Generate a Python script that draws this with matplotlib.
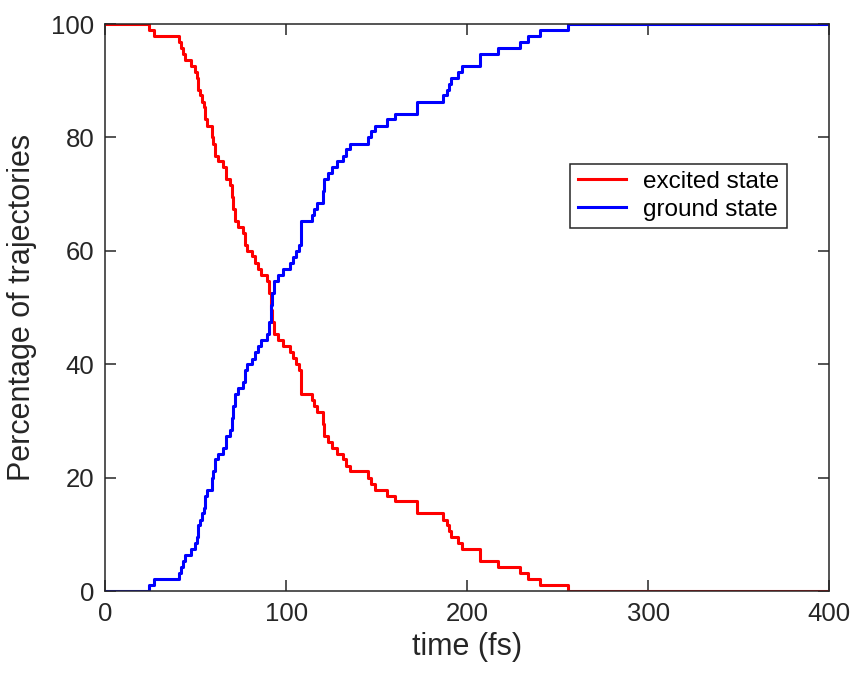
import matplotlib
matplotlib.use('Agg')
import matplotlib.pyplot as plt

plt.rcParams['font.family'] = ['Liberation Sans', 'DejaVu Sans']

# switching times (fs) and population after each switch (%)
t_switch = [0, 24.0, 27.0, 40.6, 41.7, 43.0, 43.9, 47.1, 49.5, 50.5, 51.3, 52.2,
            53.3, 54.5, 55.3, 56.1, 58.7, 59.6, 60.5, 62.4, 65.1, 66.6, 68.8, 69.8,
            70.7, 71.6, 73.4, 75.8, 77.0, 78.1, 80.8, 82.6, 84.3, 86.0, 89.1, 90.4,
            91.3, 92.2, 93.0, 95.5, 98.3, 102.0, 103.8, 105.5, 107.1, 107.9, 114.0,
            115.3, 116.7, 120.1, 120.8, 123.2, 125.0, 128.1, 131.1, 133.2, 135.2,
            145.3, 147.0, 149.0, 155.8, 160.0, 172.0, 186.7, 188.9, 189.8, 190.8,
            195.0, 196.9, 207.0, 217.1, 229.1, 233.7, 240.2, 255.8, 400.0]

excited = [100.0, 98.9, 97.9, 96.9, 95.8, 94.7, 93.7, 92.6, 91.6, 90.5, 88.4, 87.4,
           86.3, 85.3, 83.2, 82.1, 80.0, 78.9, 76.8, 75.8, 74.7, 72.6, 71.6, 69.5,
           67.4, 65.3, 64.2, 63.2, 61.1, 60.0, 59.0, 57.9, 56.8, 55.8, 54.7, 52.6,
           49.5, 47.4, 45.3, 44.2, 43.2, 42.1, 41.1, 40.0, 38.9, 34.7, 33.7,
           32.6, 31.6, 29.5, 27.4, 26.3, 25.3, 24.2, 23.2, 22.1, 21.1,
           20.0, 18.9, 17.9, 16.8, 15.8, 13.7, 12.6, 11.6, 10.5, 9.5,
           8.4, 7.4, 5.3, 4.2, 3.2, 2.1, 1.1, 0.0, 0.0]

ground = [0.0, 1.1, 2.1, 3.1, 4.2, 5.3, 6.3, 7.4, 8.4, 9.5, 11.6, 12.6,
          13.7, 14.7, 16.8, 17.9, 20.0, 21.1, 23.2, 24.2, 25.3, 27.4, 28.4, 30.5,
          32.6, 34.7, 35.8, 36.8, 38.9, 40.0, 41.0, 42.1, 43.2, 44.2, 45.3, 47.4,
          50.5, 52.6, 54.7, 55.8, 56.8, 57.9, 58.9, 60.0, 61.1, 65.3, 66.3,
          67.4, 68.4, 70.5, 72.6, 73.7, 74.7, 75.8, 76.8, 77.9, 78.9,
          80.0, 81.1, 82.1, 83.2, 84.2, 86.3, 87.4, 88.4, 89.5, 90.5,
          91.6, 92.6, 94.7, 95.8, 96.8, 97.9, 98.9, 100.0, 100.0]

fig = plt.figure(figsize=(8.56, 6.73), dpi=100)
ax = fig.add_axes([0.1232, 0.1218, 0.8453, 0.8425])

ax.step(t_switch, excited, where='post', color='#ff0000', lw=2.2, label='excited state')
ax.step(t_switch, ground, where='post', color='#0000ff', lw=2.2, label='ground state')

ax.set_xlim(0, 400)
ax.set_ylim(0, 100)
ax.set_xticks([0, 100, 200, 300, 400])
ax.set_yticks([0, 20, 40, 60, 80, 100])

dark = '#262626'
ax.tick_params(direction='in', length=8, width=1.1, colors=dark, labelsize=18.5,
               top=True, right=True, pad=8)
for sp in ax.spines.values():
    sp.set_color(dark)
    sp.set_linewidth(1.1)

ax.set_xlabel('time (fs)', fontsize=22, color=dark, labelpad=4)
ax.set_ylabel('Percentage of trajectories', fontsize=22, color=dark, labelpad=10)

leg = ax.legend(loc='upper right', bbox_to_anchor=(0.9415, 0.754), borderaxespad=0,
                fontsize=17.5, fancybox=False, framealpha=1, edgecolor=dark,
                handlelength=2.0, borderpad=0.3, labelspacing=0.25, handletextpad=0.7)
leg.get_frame().set_linewidth(1.1)

fig.savefig('out.png', dpi=100)
